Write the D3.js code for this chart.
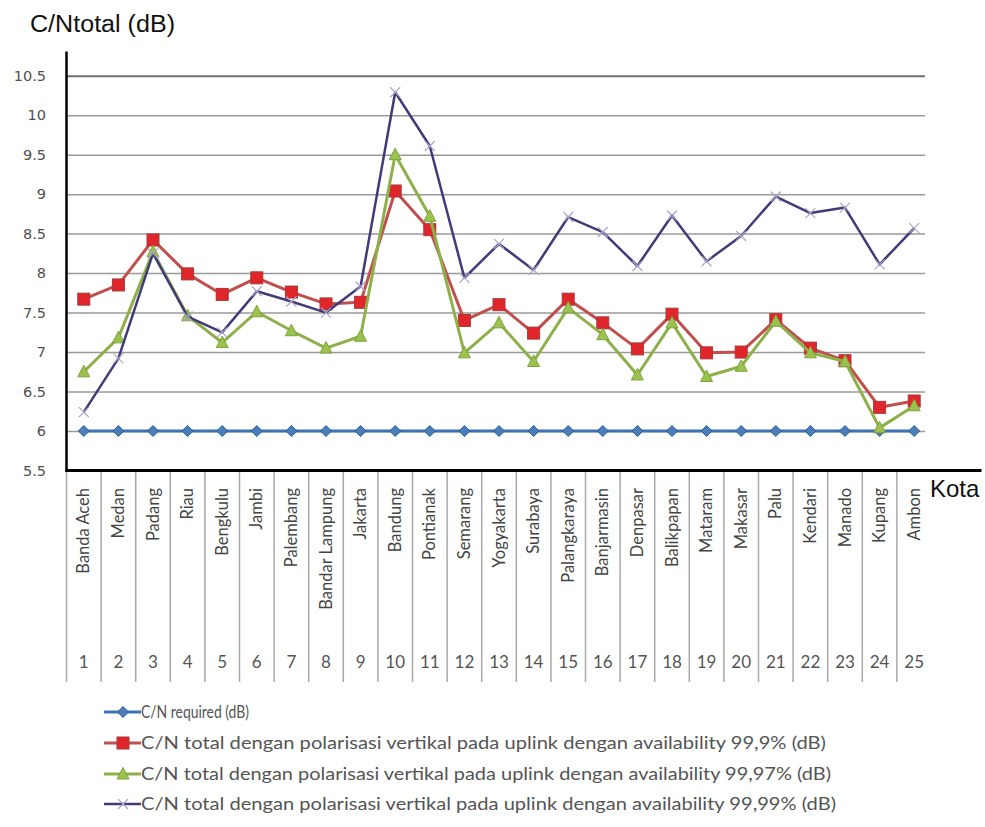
<!DOCTYPE html>
<html>
<head>
<meta charset="utf-8">
<script src="https://cdn.jsdelivr.net/npm/d3@7"></script>
<style>
  html, body { margin: 0; padding: 0; background: #ffffff; }
  svg { display: block; }
</style>
</head>
<body>
<svg id="chart" width="985" height="827"></svg>
<script>
// Cities (Kota) along the x axis, numbered 1..25
const cities = ["Banda Aceh", "Medan", "Padang", "Riau", "Bengkulu", "Jambi", "Palembang",
  "Bandar Lampung", "Jakarta", "Bandung", "Pontianak", "Semarang", "Yogyakarta", "Surabaya",
  "Palangkaraya", "Banjarmasin", "Denpasar", "Balikpapan", "Mataram", "Makasar", "Palu",
  "Kendari", "Manado", "Kupang", "Ambon"];
const cityNumbers = cities.map((d, i) => i + 1);

// C/N values in dB
const cnRequired = cityNumbers.map(() => 6);
const cnAvail999 = [7.67, 7.85, 8.42, 7.99, 7.73, 7.94, 7.76, 7.61, 7.63, 9.04, 8.55, 7.40, 7.60,
  7.24, 7.67, 7.37, 7.04, 7.48, 6.99, 7.00, 7.41, 7.05, 6.89, 6.30, 6.38];
const cnAvail9997 = [6.75, 7.18, 8.27, 7.46, 7.12, 7.51, 7.27, 7.05, 7.20, 9.50, 8.72, 6.99, 7.37,
  6.88, 7.56, 7.22, 6.71, 7.37, 6.69, 6.82, 7.39, 6.99, 6.88, 6.04, 6.32];
const cnAvail9999 = [6.24, 6.92, 8.25, 7.45, 7.25, 7.77, 7.64, 7.50, 7.83, 10.29, 9.61, 7.94, 8.37,
  8.04, 8.71, 8.52, 8.09, 8.73, 8.15, 8.47, 8.97, 8.76, 8.83, 8.11, 8.57];

const yTicks = [5.5, 6, 6.5, 7, 7.5, 8, 8.5, 9, 9.5, 10, 10.5];

const legendLabels = [
  "C/N required (dB)",
  "C/N total dengan polarisasi vertikal pada uplink dengan availability 99,9% (dB)",
  "C/N total dengan polarisasi vertikal pada uplink dengan availability 99,97% (dB)",
  "C/N total dengan polarisasi vertikal pada uplink dengan availability 99,99% (dB)"
];

const series = [
  { values: cnRequired, line: "#3f72b0", fill: "#4a7ebb", stroke: "#2f5d95", marker: "diamond", width: 3 },
  { values: cnAvail999, line: "#c0504d", fill: "#e0262b", stroke: "#a8383a", marker: "square", width: 3 },
  { values: cnAvail9997, line: "#8db04a", fill: "#9bc24f", stroke: "#7fa23c", marker: "triangle", width: 3 },
  { values: cnAvail9999, line: "#413c78", fill: "none", stroke: "#a9a6c8", marker: "cross", width: 2.5 }
];

const svg = d3.select("#chart");

const plotLeft = 66.5, plotRight = 931.5, plotTop = 75.7, plotBottom = 470.5;

const x = d3.scaleBand().domain(cityNumbers).range([plotLeft, plotRight]).paddingInner(0).paddingOuter(0);
const cx = n => x(n) + x.bandwidth() / 2;
const y = d3.scaleLinear().domain([5.5, 10.5]).range([plotBottom, plotTop]);

// Horizontal gridlines
const grid = svg.append("g")
  .attr("transform", `translate(${plotLeft},0)`)
  .call(d3.axisLeft(y).tickValues(yTicks.filter(v => v > 5.5)).tickSize(-(925 - plotLeft)).tickFormat(""));
grid.select(".domain").remove();
grid.selectAll(".tick line")
  .attr("stroke", d => d === 10.5 ? "#6e6e6e" : "#9a9a9a")
  .attr("stroke-width", d => d === 10.5 ? 2 : 1.5);

// Y tick labels
const yAxis = svg.append("g")
  .attr("transform", `translate(46,0)`)
  .call(d3.axisLeft(y).tickValues(yTicks).tickSize(0).tickPadding(0).tickFormat(d3.format("")));
yAxis.select(".domain").remove();
yAxis.selectAll("text")
  .attr("font-family", "'DejaVu Sans', Verdana, sans-serif")
  .attr("font-size", 14.5)
  .attr("fill", "#505050");

// Category table under the axis: dividers, rotated city names, numbers
const table = svg.append("g");
table.selectAll("line.div")
  .data(cityNumbers)
  .join("line")
  .attr("x1", d => x(d)).attr("x2", d => x(d))
  .attr("y1", plotBottom).attr("y2", 682)
  .attr("stroke", "#a8a8a8").attr("stroke-width", 1.5);

table.selectAll("text.city")
  .data(cities)
  .join("text")
  .attr("class", "city")
  .attr("transform", (d, i) => `translate(${cx(i + 1) + 5.5},488) rotate(-90)`)
  .attr("text-anchor", "end")
  .attr("font-family", "Lato, 'Open Sans', sans-serif")
  .attr("font-size", 16.5)
  .attr("fill", "#444")
  .text(d => d);

const xAxis = svg.append("g")
  .attr("transform", `translate(0,662)`)
  .call(d3.axisBottom(x).tickSize(0).tickPadding(0));
xAxis.select(".domain").remove();
xAxis.selectAll("text")
  .attr("dy", "0.35em")
  .attr("font-family", "Lato, 'Open Sans', sans-serif")
  .attr("font-size", 17)
  .attr("fill", "#555");

// Axis lines
svg.append("line")
  .attr("x1", plotLeft).attr("x2", plotLeft)
  .attr("y1", 51.5).attr("y2", plotBottom + 1.5)
  .attr("stroke", "#000").attr("stroke-width", 2.5);
svg.append("line")
  .attr("x1", plotLeft - 1).attr("x2", 981.5)
  .attr("y1", plotBottom).attr("y2", plotBottom)
  .attr("stroke", "#000").attr("stroke-width", 3);

// Axis titles
svg.append("text")
  .attr("x", 30).attr("y", 32)
  .attr("font-family", "'Liberation Sans', Arial, sans-serif")
  .attr("font-size", 23.5)
  .attr("textLength", 145)
  .attr("lengthAdjust", "spacingAndGlyphs")
  .attr("fill", "#111")
  .text("C/Ntotal (dB)");
svg.append("text")
  .attr("x", 930).attr("y", 497)
  .attr("font-family", "'Liberation Sans', Arial, sans-serif")
  .attr("font-size", 24)
  .attr("fill", "#111")
  .text("Kota");

// Marker drawing
function drawMarker(g, kind, s) {
  if (kind === "diamond") {
    g.append("path").attr("d", "M0,-5.5L5.5,0L0,5.5L-5.5,0Z")
      .attr("fill", s.fill).attr("stroke", s.stroke).attr("stroke-width", 1);
  } else if (kind === "square") {
    g.append("rect").attr("x", -6).attr("y", -6).attr("width", 12).attr("height", 12)
      .attr("fill", s.fill).attr("stroke", s.stroke).attr("stroke-width", 1);
  } else if (kind === "triangle") {
    g.append("path").attr("d", "M0,-6.5L6,5L-6,5Z")
      .attr("fill", s.fill).attr("stroke", s.stroke).attr("stroke-width", 1);
  } else if (kind === "cross") {
    g.append("path").attr("d", "M-5,-5L5,5M-5,5L5,-5")
      .attr("stroke", s.stroke).attr("stroke-width", 1.2).attr("fill", "none");
  }
}

const line = d3.line().x((d, i) => cx(i + 1)).y(d => y(d));

series.forEach(s => {
  const g = svg.append("g");
  g.append("path")
    .datum(s.values)
    .attr("d", line)
    .attr("fill", "none")
    .attr("stroke", s.line)
    .attr("stroke-width", s.width)
    .attr("stroke-linejoin", "round");
  g.selectAll("g.pt")
    .data(s.values)
    .join("g")
    .attr("transform", (d, i) => `translate(${cx(i + 1)},${y(d)})`)
    .each(function () { drawMarker(d3.select(this), s.marker, s); });
});

// Legend
const legendY = [712, 743, 774, 804];
const legendWidths = [108, 685, 690, 695];
const legend = svg.append("g");
series.forEach((s, i) => {
  const g = legend.append("g").attr("transform", `translate(0,${legendY[i]})`);
  g.append("line").attr("x1", 104).attr("x2", 141).attr("y1", 0).attr("y2", 0)
    .attr("stroke", s.line).attr("stroke-width", s.width);
  const m = g.append("g").attr("transform", "translate(123,0)");
  drawMarker(m, s.marker, s);
  g.append("text")
    .attr("x", 141).attr("y", 0).attr("dy", "0.35em")
    .attr("font-family", "Lato, 'Open Sans', sans-serif")
    .attr("font-size", 16.5)
    .attr("textLength", legendWidths[i])
    .attr("lengthAdjust", "spacingAndGlyphs")
    .attr("fill", "#555")
    .text(legendLabels[i]);
});
</script>
</body>
</html>
